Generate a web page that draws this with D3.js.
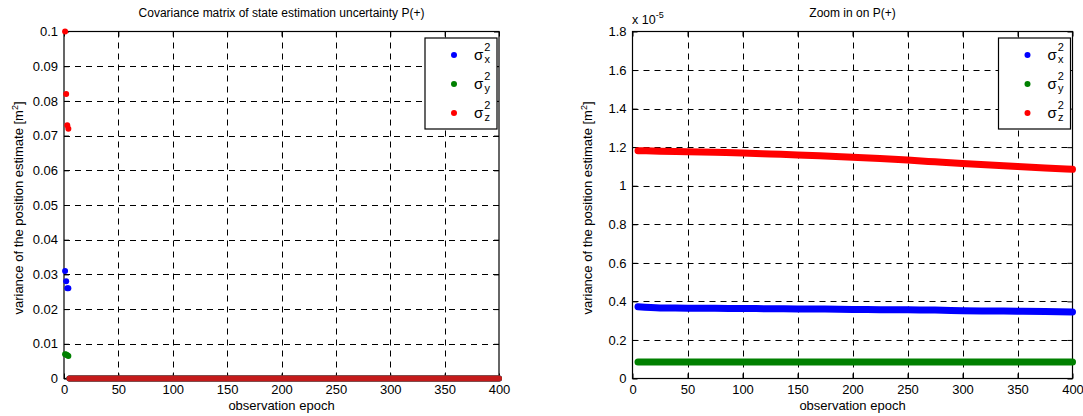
<!DOCTYPE html>
<html>
<head>
<meta charset="utf-8">
<script src="https://cdn.jsdelivr.net/npm/d3@7"></script>
<style>
  body { margin: 0; background: #fff; }
  text { font-family: "Liberation Sans", Arial, sans-serif; fill: #000; }
</style>
</head>
<body>
<script>
// early epochs, shown only in the full view
const earlyEpochs = [1, 2, 3, 4];
const earlyX = [0.031, 0.028, 0.026, 0.026];
const earlyY = [0.007, 0.0069, 0.0067, 0.0065];
const earlyZ = [0.1, 0.082, 0.073, 0.072];

// remaining epochs, values in units of 1e-5 m^2
const tailEpochs = [5, 25, 50, 75, 100, 125, 150, 175, 200, 225, 250, 275, 300, 325, 350, 375, 400];
const tailX = [0.372, 0.366, 0.365, 0.364, 0.363, 0.362, 0.361, 0.360, 0.358, 0.357, 0.356, 0.355, 0.352, 0.350, 0.349, 0.347, 0.345];
const tailY = [0.086, 0.086, 0.086, 0.086, 0.086, 0.086, 0.086, 0.086, 0.086, 0.086, 0.086, 0.086, 0.086, 0.086, 0.086, 0.086, 0.086];
const tailZ = [1.182, 1.179, 1.176, 1.173, 1.170, 1.165, 1.160, 1.154, 1.148, 1.141, 1.133, 1.124, 1.115, 1.107, 1.100, 1.092, 1.085];

const xTicks = [0, 50, 100, 150, 200, 250, 300, 350, 400];
const yTicksFull = [0, 0.01, 0.02, 0.03, 0.04, 0.05, 0.06, 0.07, 0.08, 0.09, 0.1];
const yTicksZoom = [0, 0.2, 0.4, 0.6, 0.8, 1, 1.2, 1.4, 1.6, 1.8];

const colors = { x: "#0000ff", y: "#008000", z: "#ff0000" };
const seriesNames = ["x", "y", "z"];

const W = 1083, H = 416;
const svg = d3.select("body").append("svg").attr("width", W).attr("height", H);

function drawPanel(opt) {
  const g = svg.append("g");
  const x = d3.scaleLinear().domain([0, 400]).range([opt.left, opt.right]);
  const y = d3.scaleLinear().domain(opt.yDomain).range([opt.bottom, opt.top]);

  // grid
  g.append("g").selectAll("line.gx").data(xTicks.slice(1, -1)).join("line")
    .attr("x1", d => Math.round(x(d)) + 0.5).attr("x2", d => Math.round(x(d)) + 0.5)
    .attr("y1", opt.top).attr("y2", opt.bottom)
    .attr("stroke", "#000").attr("stroke-dasharray", "6,5");
  g.append("g").selectAll("line.gy").data(opt.yTicks.slice(1, -1)).join("line")
    .attr("y1", d => Math.round(y(d)) + 0.5).attr("y2", d => Math.round(y(d)) + 0.5)
    .attr("x1", opt.left).attr("x2", opt.right)
    .attr("stroke", "#000").attr("stroke-dasharray", "6,5");

  // axes with inward ticks
  const fmt = d => String(+d.toFixed(4));
  g.append("g").attr("transform", `translate(0,${opt.bottom})`)
    .call(d3.axisBottom(x).tickValues(xTicks).tickSizeInner(-5).tickSizeOuter(0).tickPadding(6))
    .call(a => a.select(".domain").remove());
  g.append("g").attr("transform", `translate(0,${opt.top})`)
    .call(d3.axisTop(x).tickValues(xTicks).tickSizeInner(-5).tickSizeOuter(0).tickFormat(""))
    .call(a => a.select(".domain").remove());
  g.append("g").attr("transform", `translate(${opt.left},0)`)
    .call(d3.axisLeft(y).tickValues(opt.yTicks).tickSizeInner(-5).tickSizeOuter(0).tickPadding(6).tickFormat(fmt))
    .call(a => a.select(".domain").remove());
  g.append("g").attr("transform", `translate(${opt.right},0)`)
    .call(d3.axisRight(y).tickValues(opt.yTicks).tickSizeInner(-5).tickSizeOuter(0).tickFormat(""))
    .call(a => a.select(".domain").remove());
  g.selectAll(".tick text").style("font-size", "13px").style("font-family", "Liberation Sans, Arial, sans-serif");
  g.selectAll(".tick line").attr("stroke", "#000");

  g.append("rect").attr("x", opt.left).attr("y", opt.top)
    .attr("width", opt.right - opt.left).attr("height", opt.bottom - opt.top)
    .attr("fill", "none").attr("stroke", "#000").attr("stroke-width", 1.2);

  // data
  const clip = "clip" + opt.id;
  svg.append("clipPath").attr("id", clip).append("rect")
    .attr("x", opt.left - 4).attr("y", opt.top - 4)
    .attr("width", opt.right - opt.left + 8).attr("height", opt.bottom - opt.top + 8);
  const dg = g.append("g").attr("clip-path", `url(#${clip})`);
  const line = d3.line().curve(d3.curveMonotoneX).x(d => x(d[0])).y(d => y(d[1]));
  opt.tails.forEach((vals, i) => {
    const pts = tailEpochs.map((e, k) => [e, vals[k] * opt.tailScale]);
    dg.append("path").attr("d", line(pts)).attr("fill", "none")
      .attr("stroke", opt.tailColors[i]).attr("stroke-width", opt.band)
      .attr("stroke-linecap", "round").attr("stroke-linejoin", "round");
  });
  if (opt.early) {
    opt.early.forEach((vals, i) => {
      dg.append("g").selectAll("circle").data(earlyEpochs.map((e, k) => [e, vals[k]])).join("circle")
        .attr("cx", d => x(d[0])).attr("cy", d => y(d[1])).attr("r", 3)
        .attr("fill", colors[seriesNames[i]]);
    });
  }

  // texts
  svg.append("text").attr("x", (opt.left + opt.right) / 2).attr("y", 17)
    .attr("text-anchor", "middle").style("font-size", "12px").text(opt.title);
  svg.append("text").attr("x", (opt.left + opt.right) / 2).attr("y", 410)
    .attr("text-anchor", "middle").style("font-size", "13px").text("observation epoch");
  const yl = svg.append("text")
    .attr("transform", `translate(${opt.left - 41},${(opt.top + opt.bottom) / 2 + 3}) rotate(-90)`)
    .attr("text-anchor", "middle").style("font-size", "13px");
  yl.append("tspan").text("variance of the position estimate [m");
  yl.append("tspan").attr("dy", -5).style("font-size", "9px").text("2");
  yl.append("tspan").attr("dy", 5).text("]");

  // legend
  const lg = svg.append("g").attr("transform", `translate(${opt.right - 74},38)`);
  lg.append("rect").attr("width", 72).attr("height", 91)
    .attr("fill", "#fff").attr("stroke", "#000").attr("stroke-width", 1.2);
  seriesNames.forEach((s, i) => {
    const cy = 17 + i * 29;
    lg.append("circle").attr("cx", 29).attr("cy", cy).attr("r", 3).attr("fill", colors[s]);
    const t = lg.append("text").attr("x", 49).attr("y", cy + 5).style("font-size", "15px");
    t.append("tspan").text("σ");
    t.append("tspan").attr("dy", -9).attr("dx", 1).style("font-size", "11px").text("2");
    t.append("tspan").attr("dy", 12).attr("dx", -6).style("font-size", "11px").text(s);
  });
  return { x, y };
}

drawPanel({
  id: "full", left: 64, right: 499, top: 31.5, bottom: 378.5,
  yDomain: [0, 0.1], yTicks: yTicksFull,
  title: "Covariance matrix of state estimation uncertainty P(+)",
  tails: [tailX, tailY, tailZ], tailScale: 1e-5,
  tailColors: [colors.x, colors.y, "#c41a1a"], band: 6,
  early: [earlyX, earlyY, earlyZ]
});

drawPanel({
  id: "zoom", left: 632.5, right: 1072.5, top: 31.5, bottom: 378.5,
  yDomain: [0, 1.8], yTicks: yTicksZoom,
  title: "Zoom in on P(+)",
  tails: [tailX, tailY, tailZ], tailScale: 1,
  tailColors: [colors.x, colors.y, colors.z], band: 7,
  early: null
});

const ex = svg.append("text").attr("x", 632).attr("y", 24).style("font-size", "12.5px");
ex.append("tspan").text("x 10");
ex.append("tspan").attr("dy", -6).style("font-size", "9px").text("-5");
</script>
</body>
</html>
